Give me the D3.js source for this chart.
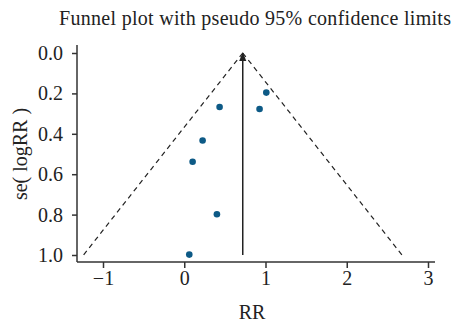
<!DOCTYPE html>
<html lang="en">
<head>
    <meta charset="UTF-8">
    <title>Funnel plot</title>
    <script src="https://d3js.org/d3.v7.min.js"></script>
    <style>
        body {
            margin: 0;
            background: #ffffff;
        }
        svg text {
            font-family: "Liberation Serif", "Times New Roman", serif;
            fill: #222;
        }
        .tick text {
            font-size: 20px;
        }
    </style>
</head>
<body>
    <div id="chart"></div>

    <script>
        // Study estimates: RR and its standard error
        const rrValues = [1.01, 0.435, 0.927, 0.226, 0.103, 0.402, 0.062];
        const seValues = [0.196, 0.267, 0.277, 0.433, 0.538, 0.798, 0.998];
        const pooledRR = 0.72;
        const xTicks = [-1, 0, 1, 2, 3];
        const yTicks = [0, 0.2, 0.4, 0.6, 0.8, 1.0];

        const W = 454, H = 323;

        const svg = d3.select("#chart")
            .append("svg")
            .attr("width", W)
            .attr("height", H);

        // Scales
        const x = d3.scaleLinear().domain([-1, 3]).range([103, 428]);
        const y = d3.scaleLinear().domain([0, 1]).range([53, 255]);

        const axisY = 262, axisX = 77;

        // Title
        svg.append("text")
            .attr("x", 255)
            .attr("y", 25)
            .attr("text-anchor", "middle")
            .attr("textLength", 392)
            .attr("lengthAdjust", "spacing")
            .style("font-size", "20px")
            .text("Funnel plot with pseudo 95% confidence limits");

        // X axis
        const gx = svg.append("g")
            .attr("transform", `translate(0, ${axisY})`)
            .call(d3.axisBottom(x).tickValues(xTicks).tickSize(6).tickPadding(3)
                .tickFormat(d => d < 0 ? "\u2212" + Math.abs(d) : d));
        gx.attr("font-family", null);
        gx.select(".domain").remove();
        gx.selectAll(".tick line").attr("stroke", "#333").attr("stroke-width", 1.5);
        svg.append("line")
            .attr("x1", axisX).attr("x2", 435)
            .attr("y1", axisY).attr("y2", axisY)
            .attr("stroke", "#333").attr("stroke-width", 1.5);

        // Y axis
        const gy = svg.append("g")
            .attr("transform", `translate(${axisX}, 0)`)
            .call(d3.axisLeft(y).tickValues(yTicks).tickSize(5).tickPadding(9)
                .tickFormat(d3.format(".1f")));
        gy.attr("font-family", null);
        gy.select(".domain").remove();
        gy.selectAll(".tick line").attr("stroke", "#333").attr("stroke-width", 1.5);
        svg.append("line")
            .attr("x1", axisX).attr("x2", axisX)
            .attr("y1", 45).attr("y2", axisY)
            .attr("stroke", "#333").attr("stroke-width", 1.5);

        // Axis labels
        svg.append("text")
            .attr("x", 252)
            .attr("y", 319)
            .attr("text-anchor", "middle")
            .style("font-size", "20px")
            .text("RR");

        svg.append("text")
            .attr("transform", "rotate(-90)")
            .attr("x", -154)
            .attr("y", 27)
            .attr("text-anchor", "middle")
            .style("font-size", "20px")
            .text("se( logRR )");

        // Pseudo 95% confidence limits
        const line = d3.line().x(d => x(d[0])).y(d => y(d[1]));
        const seMax = 1.0;
        [[[pooledRR, 0], [pooledRR - 1.96 * seMax, seMax]],
         [[pooledRR, 0], [pooledRR + 1.96 * seMax, seMax]]].forEach(pts => {
            svg.append("path")
                .attr("d", line(pts))
                .attr("fill", "none")
                .attr("stroke", "#222")
                .attr("stroke-width", 1.2)
                .attr("stroke-dasharray", "5,4");
        });

        // Arrow marker for the pooled estimate line
        svg.append("defs").append("marker")
            .attr("id", "arrow")
            .attr("viewBox", "0 0 10 10")
            .attr("refX", 9).attr("refY", 5)
            .attr("markerWidth", 6).attr("markerHeight", 6)
            .attr("orient", "auto")
            .append("path")
            .attr("d", "M0,1 L10,5 L0,9 Z")
            .attr("fill", "#222");

        svg.append("path")
            .attr("d", line([[pooledRR, seMax], [pooledRR, 0]]))
            .attr("stroke", "#222")
            .attr("stroke-width", 1.5)
            .attr("marker-end", "url(#arrow)");

        // Study points
        svg.selectAll(".pt")
            .data(rrValues.map((rr, i) => ({ rr, se: seValues[i] })))
            .enter()
            .append("circle")
            .attr("class", "pt")
            .attr("cx", d => x(d.rr))
            .attr("cy", d => y(d.se))
            .attr("r", 3.3)
            .attr("fill", "#0d5a86");
    </script>
</body>
</html>
